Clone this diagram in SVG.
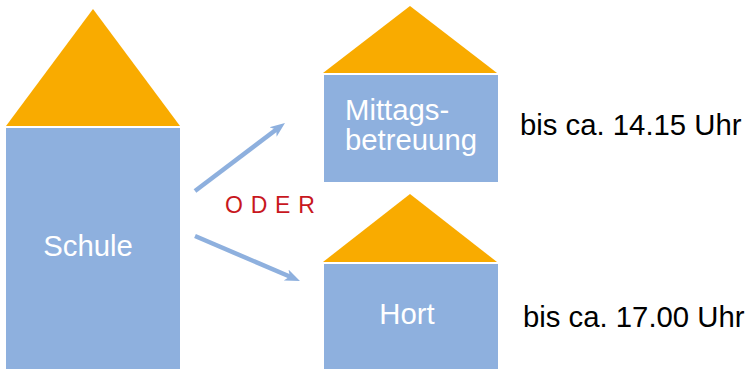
<svg xmlns="http://www.w3.org/2000/svg" width="749" height="369" viewBox="0 0 749 369">
<style>
.roof{fill:#f9ab00}
.body{fill:#8eb0de}
.w{fill:#fff;font:29.3px "Liberation Sans",Arial,sans-serif;text-anchor:middle}
.k{fill:#000;font:29.3px "Liberation Sans",Arial,sans-serif}
.c{stroke:#8eb0de;stroke-width:4.5;fill:none;marker-end:url(#a)}
</style>
<defs><marker id="a" markerUnits="userSpaceOnUse" markerWidth="16" markerHeight="14" refX="7" refY="7" orient="auto"><path d="M0 1L15 7L0 13L4 7Z" fill="#8eb0de"/></marker></defs>
<rect width="749" height="369" fill="#fff"/>
<g id="schule"><polygon class="roof" points="93,9 180,126 6,126"/><rect class="body" x="6" y="128" width="174" height="241"/><text class="w" x="88" y="256">Schule</text></g>
<g id="mittag"><polygon class="roof" points="410,6 497,73 323,73"/><rect class="body" x="324" y="75" width="174" height="107"/><text class="w" x="345" y="120" style="text-anchor:start">Mittags-</text><text class="w" x="411" y="150">betreuung</text></g>
<g id="hort"><polygon class="roof" points="410,194 497,262 323,262"/><rect class="body" x="324" y="264" width="174" height="105"/><text class="w" x="407" y="324">Hort</text></g>
<g id="connectors"><line class="c" x1="195" y1="191" x2="278.6" y2="127.8"/><line class="c" x1="195" y1="236" x2="292.6" y2="277.8"/></g>
<text id="oder" x="225" y="213" font-family="Liberation Sans" font-size="23" fill="#c8171e" letter-spacing="0.7">O D E R</text>
<text id="t1" class="k" x="520" y="135">bis ca. 14.15 Uhr</text>
<text id="t2" class="k" x="523" y="327">bis ca. 17.00 Uhr</text>
</svg>
